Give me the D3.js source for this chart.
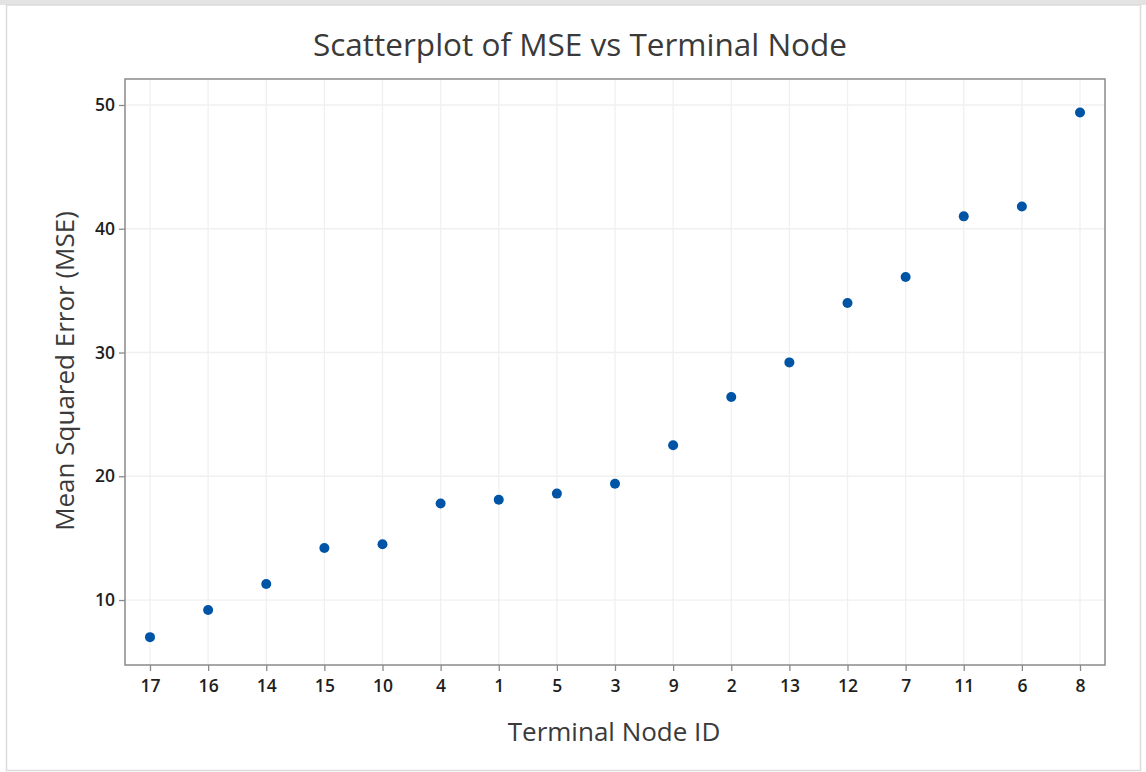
<!DOCTYPE html>
<html><head><meta charset="utf-8">
<script src="https://cdn.jsdelivr.net/npm/d3@7"></script>
<style>body{margin:0;background:#fff;font-family:"Open Sans","Noto Sans",sans-serif;}</style>
</head><body>
<svg id="c" width="1146" height="772"></svg>
<script>
const nodeIds = ["17","16","14","15","10","4","1","5","3","9","2","13","12","7","11","6","8"];
const mseValues = [7.0,9.2,11.3,14.2,14.5,17.8,18.1,18.6,19.4,22.5,26.4,29.2,34.0,36.1,41.0,41.8,49.4];
const yTicks = [10,20,30,40,50];

const svg = d3.select("#c");
svg.append("rect").attr("x",0).attr("y",0).attr("width",1146).attr("height",5).attr("fill","#e3e3e3");
svg.append("rect").attr("x",6.5).attr("y",5).attr("width",1134).attr("height",765.5).attr("fill","none").attr("stroke","#dcdcdc").attr("stroke-width",1.5);

const L=125, R=1105, T=79, B=665;
const x = d3.scalePoint().domain(nodeIds).range([L,R]).padding(0.43);
const y = d3.scaleLinear().domain([4.75,52.1]).range([B,T]);

const g = svg.append("g");
g.selectAll(".vg").data(nodeIds).join("line").attr("x1",d=>x(d)).attr("x2",d=>x(d)).attr("y1",T).attr("y2",B).attr("stroke","#f0f0f0").attr("stroke-width",1.3);
g.selectAll(".hg").data(yTicks).join("line").attr("x1",L).attr("x2",R).attr("y1",d=>y(d)).attr("y2",d=>y(d)).attr("stroke","#f0f0f0").attr("stroke-width",1.3);

g.append("rect").attr("x",L).attr("y",T).attr("width",R-L).attr("height",B-T).attr("fill","none").attr("stroke","#8a8a8a").attr("stroke-width",1.5);

const xa = svg.append("g").attr("transform",`translate(0,${B})`).call(d3.axisBottom(x).tickSize(6).tickPadding(9));
const ya = svg.append("g").attr("transform",`translate(${L},0)`).call(d3.axisLeft(y).tickValues(yTicks).tickSize(6).tickPadding(4));
[xa,ya].forEach(a=>{
  a.select(".domain").remove();
  a.selectAll(".tick line").attr("stroke","#8a8a8a").attr("stroke-width",1.3);
  a.selectAll(".tick text").attr("fill","#1e1e1e").style("font-size","17.5px").style("font-weight","600").style("font-family","'Open Sans','Noto Sans',sans-serif");
});

g.selectAll(".pt").data(nodeIds).join("circle")
  .attr("cx",d=>x(d)).attr("cy",(d,i)=>y(mseValues[i])).attr("r",5).attr("fill","#0054a6");

svg.append("text").attr("x",580).attr("y",56).attr("text-anchor","middle").attr("fill","#3a3a3a")
  .style("font-size","31.5px").style("font-weight","500").text("Scatterplot of MSE vs Terminal Node");
svg.append("text").attr("x",614).attr("y",741).attr("text-anchor","middle").attr("fill","#3a3a3a")
  .style("font-size","26px").style("font-weight","500").text("Terminal Node ID");
svg.append("text").attr("transform","translate(74,371) rotate(-90)").attr("text-anchor","middle").attr("fill","#3a3a3a")
  .style("font-size","26px").style("font-weight","500").text("Mean Squared Error (MSE)");
</script>
</body></html>
